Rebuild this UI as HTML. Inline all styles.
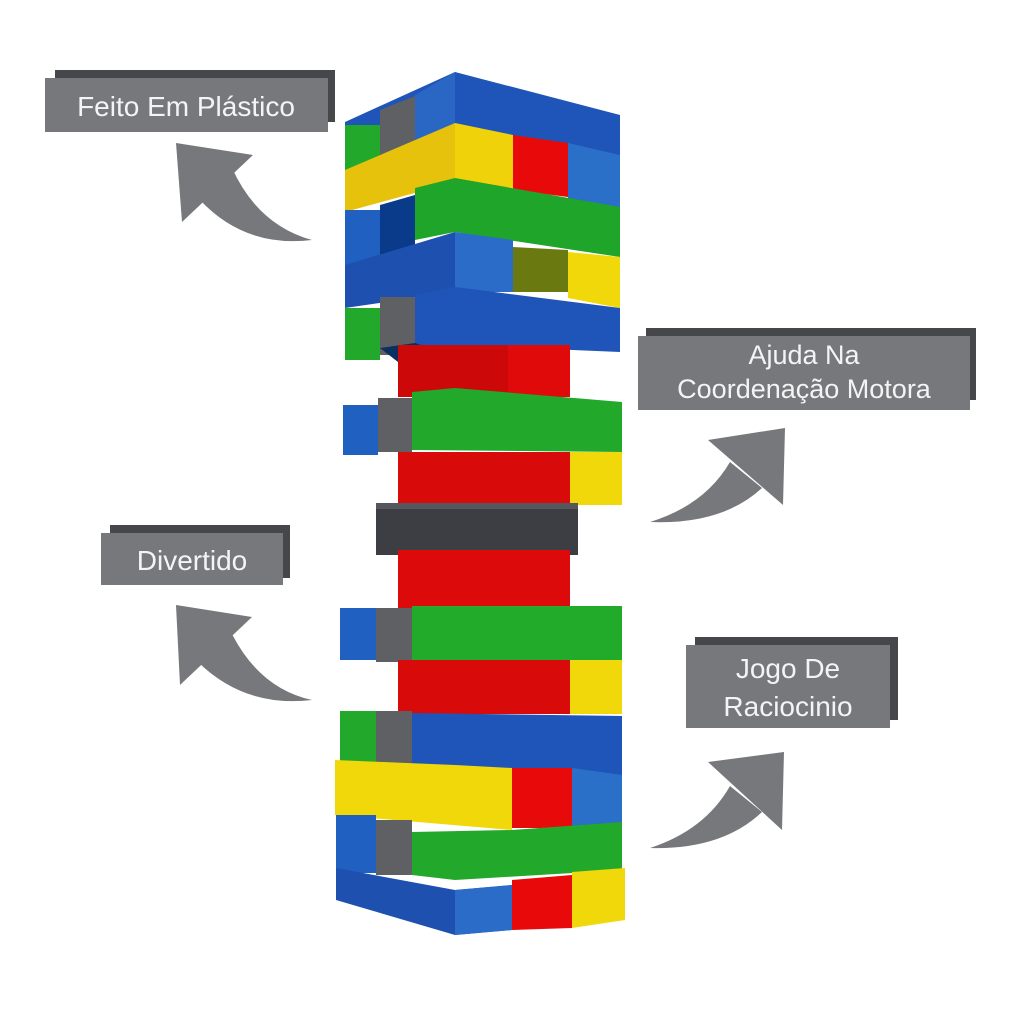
<!DOCTYPE html>
<html><head><meta charset="utf-8"><style>
html,body{margin:0;padding:0;background:#fff;}
svg{display:block}
text{font-family:"Liberation Sans","DejaVu Sans",sans-serif;fill:#f4f4f4;}
</style></head><body>
<svg width="1024" height="1024" viewBox="0 0 1024 1024" xmlns="http://www.w3.org/2000/svg">
<!-- Labels -->
<rect x="55" y="70" width="280" height="52" fill="#46474a"/>
<rect x="45" y="78" width="283" height="54" fill="#77787b"/>
<text x="186" y="116" font-size="28" text-anchor="middle">Feito Em Plástico</text>

<rect x="646" y="328" width="330" height="72" fill="#46474a"/>
<rect x="638" y="336" width="332" height="74" fill="#77787b"/>
<text x="804" y="364" font-size="27" text-anchor="middle">Ajuda Na</text>
<text x="804" y="398" font-size="27" text-anchor="middle">Coordenação Motora</text>

<rect x="110" y="525" width="180" height="53" fill="#46474a"/>
<rect x="101" y="533" width="182" height="52" fill="#77787b"/>
<text x="192" y="570" font-size="28" text-anchor="middle">Divertido</text>

<rect x="695" y="637" width="203" height="83" fill="#46474a"/>
<rect x="686" y="645" width="204" height="83" fill="#77787b"/>
<text x="788" y="678" font-size="28" text-anchor="middle">Jogo De</text>
<text x="788" y="716" font-size="28" text-anchor="middle">Raciocinio</text>

<!-- Arrows -->
<g fill="#77787b">
<polygon points="176,143 253,155 182,222"/>
<path d="M200,200 L232,168 Q258,225 312,240 Q245,248 200,200 Z"/>
<polygon points="176,605 252,617 180,685"/>
<path d="M198,662 L230,630 Q258,688 312,700 Q245,708 198,662 Z"/>
<polygon points="785,428 708,440 783,505"/>
<path d="M730,462 L762,488 Q722,525 650,522 Q705,505 730,462 Z"/>
<polygon points="784,752 708,762 782,830"/>
<path d="M730,786 L762,812 Q722,850 650,848 Q705,830 730,786 Z"/>
</g>

<!-- Tower -->
<g>
<!-- top cap -->
<polygon points="345,122 455,72 620,115 620,160 455,128 345,170" fill="#1f55b8"/>
<polygon points="415,95 455,72 455,128 415,140" fill="#2a66c4"/>
<rect x="345" y="125" width="35" height="47" fill="#22a82a"/>
<polygon points="380,110 415,96 415,155 380,165" fill="#5f6063"/>
<!-- yellow band -->
<polygon points="345,170 455,123 455,182 345,212" fill="#e6c20c"/>
<polygon points="455,123 513,135 513,188 455,182" fill="#f0d20a"/>
<polygon points="513,135 568,143 568,197 513,190" fill="#e80a0a"/>
<polygon points="568,143 620,155 620,210 568,198" fill="#2a70c8"/>
<!-- left blue + hole -->
<rect x="345" y="210" width="35" height="60" fill="#1f60c0"/>
<polygon points="380,205 415,195 415,250 380,255" fill="#0a3a8a"/>
<!-- green band -->
<polygon points="415,188 455,178 620,207 620,257 455,232 415,240" fill="#1ea52a"/>
<!-- blue big band -->
<polygon points="345,265 455,232 455,292 345,308" fill="#1e50b0"/>
<polygon points="455,232 513,240 513,292 455,292" fill="#2a6cc8"/>
<polygon points="513,247 568,250 568,292 513,292" fill="#6a7a10"/>
<polygon points="568,252 620,257 620,308 568,298" fill="#f0d80a"/>
<!-- blue band 2 -->
<polygon points="415,295 455,287 620,308 620,352 455,345 415,350" fill="#1f55b8"/>
<rect x="345" y="308" width="35" height="52" fill="#22a82a"/>
<rect x="380" y="297" width="35" height="58" fill="#5f6063"/>
<polygon points="380,348 415,343 430,348 398,362" fill="#0a3060"/>
<!-- red -->
<rect x="398" y="345" width="172" height="52" fill="#e00a0a"/>
<rect x="398" y="345" width="110" height="52" fill="#cc0808"/>
<!-- blue/gray/green -->
<rect x="343" y="405" width="35" height="50" fill="#1f60c0"/>
<rect x="378" y="398" width="34" height="54" fill="#5f6063"/>
<polygon points="412,392 455,388 622,402 622,452 412,450" fill="#22a82a"/>
<!-- red/yellow -->
<rect x="398" y="452" width="172" height="53" fill="#d80a0a"/>
<rect x="570" y="452" width="52" height="53" fill="#f0d80a"/>
<!-- dark gray -->
<rect x="376" y="503" width="202" height="52" fill="#3c3e44"/>
<rect x="376" y="503" width="202" height="6" fill="#55575c"/>
<!-- red -->
<rect x="398" y="550" width="172" height="58" fill="#dc0a0a"/>
<!-- blue/gray/green -->
<rect x="340" y="608" width="36" height="52" fill="#1f60c0"/>
<rect x="376" y="608" width="36" height="54" fill="#5f6063"/>
<rect x="412" y="606" width="210" height="58" fill="#22aa2a"/>
<!-- red/yellow -->
<rect x="398" y="660" width="172" height="54" fill="#d80a0a"/>
<rect x="570" y="660" width="52" height="54" fill="#f0d80a"/>
<!-- green/gray/blue -->
<rect x="340" y="711" width="36" height="52" fill="#22a82a"/>
<rect x="376" y="711" width="36" height="55" fill="#5f6063"/>
<polygon points="412,713 622,716 622,775 412,770" fill="#1f55b8"/>
<!-- yellow/red/blue -->
<polygon points="335,760 455,765 512,768 512,830 335,815" fill="#f0d80a"/>
<rect x="512" y="768" width="60" height="60" fill="#e80a0a"/>
<polygon points="572,768 622,775 622,825 572,828" fill="#2a70c8"/>
<!-- blue/gray/green -->
<rect x="336" y="815" width="40" height="58" fill="#1f60c0"/>
<rect x="376" y="820" width="36" height="55" fill="#5f6063"/>
<polygon points="412,832 512,830 622,822 622,870 455,880 412,875" fill="#22a82a"/>
<!-- bottom -->
<polygon points="336,868 455,890 512,885 512,930 455,935 336,900" fill="#1e50b0"/>
<polygon points="455,890 512,885 512,930 455,935" fill="#2a6cc8"/>
<polygon points="512,880 572,875 572,928 512,930" fill="#e80a0a"/>
<polygon points="572,872 625,868 625,920 572,928" fill="#f0d80a"/>
</g>
</svg>
</body></html>
